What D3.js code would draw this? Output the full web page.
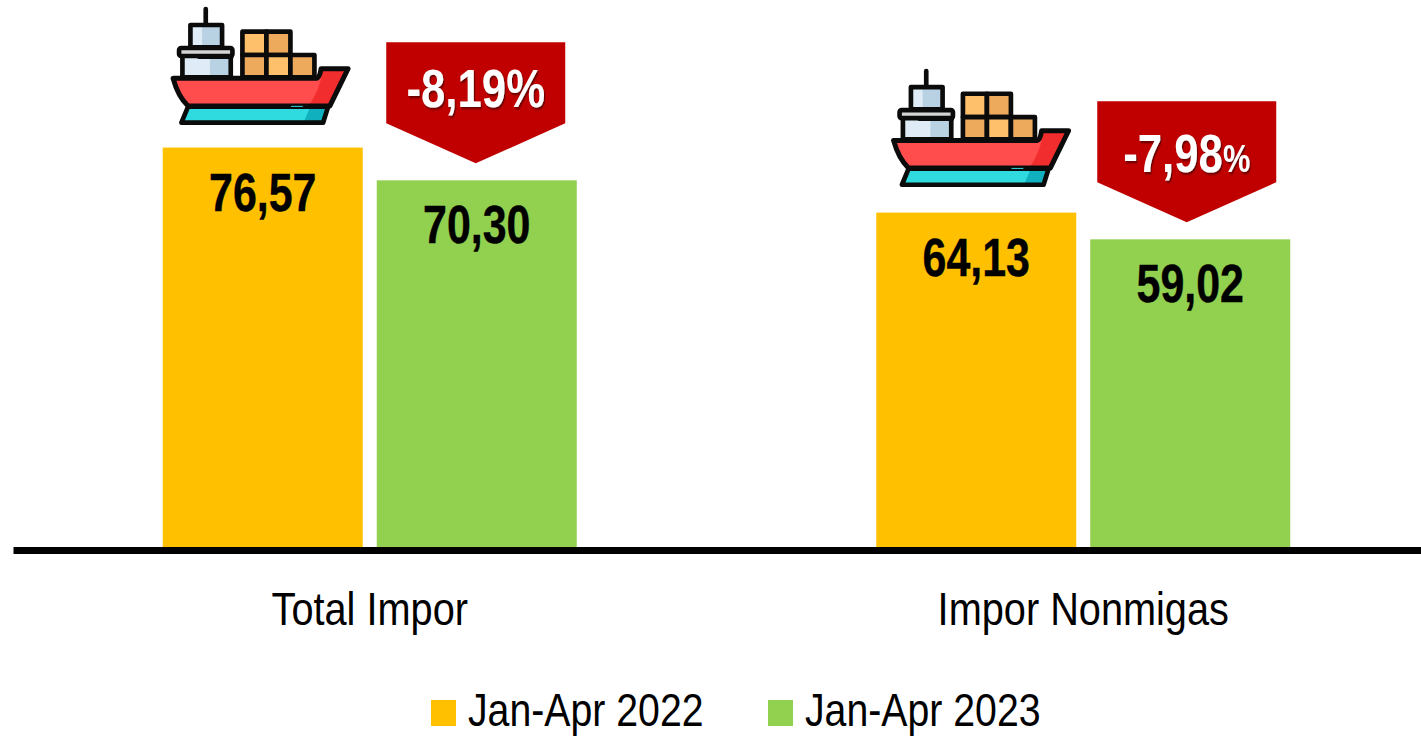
<!DOCTYPE html>
<html>
<head>
<meta charset="utf-8">
<script src="https://cdn.jsdelivr.net/npm/d3@7"></script>
<style>
html,body{margin:0;padding:0;background:#fff;overflow:hidden}
svg{display:block}
text{font-family:"Liberation Sans",Arial,sans-serif;fill:#000}
</style>
</head>
<body>
<svg id="chart" width="1421" height="736"></svg>
<script>
const categories = ["Total Impor", "Impor Nonmigas"];
const seriesNames = ["Jan-Apr 2022", "Jan-Apr 2023"];
const values2022 = [76.57, 64.13];
const values2023 = [70.30, 59.02];
const changeMain = ["-8,19%", "-7,98"];
const changeSmall = ["", "%"];
const colors = ["#FFC000", "#92D050"];

const fmt = v => v.toFixed(2).replace(".", ",");
const svg = d3.select("#chart");

const x = d3.scaleBand().domain(categories).range([13, 1440]);
const x1 = d3.scalePoint().domain(seriesNames).range([-107, 107]);
const barW = 200;
const y = d3.scaleLinear().domain([0, 100]).range([548, 25]);

// ship symbol, drawn in its own local coordinate box
const defs = svg.append("defs");
const ship = defs.append("g").attr("id", "ship").attr("stroke-linejoin", "round").attr("stroke-linecap", "round");
const K = "#0b0b0b";
const sw = 14;
const rect = (p, a, b, c, d, f) => p.append("rect").attr("x", a).attr("y", b).attr("width", c - a).attr("height", d - b).attr("fill", f);
ship.append("path").attr("d", "M138,27V75").attr("stroke", K).attr("stroke-width", sw).attr("fill", "none");
rect(ship, 92, 75, 187, 142, "#B8D2E4");
rect(ship, 92, 75, 127, 142, "#DFECF7");
ship.append("rect").attr("x", 92).attr("y", 75).attr("width", 95).attr("height", 67).attr("fill", "none").attr("stroke", K).attr("stroke-width", sw);
rect(ship, 68, 165, 150, 232, "#DFECF7");
rect(ship, 150, 165, 213, 232, "#B8D2E4");
ship.append("rect").attr("x", 68).attr("y", 165).attr("width", 145).attr("height", 67).attr("fill", "none").attr("stroke", K).attr("stroke-width", sw);
ship.append("rect").attr("x", 58).attr("y", 144).attr("width", 160).attr("height", 24).attr("rx", 6).attr("fill", "#D5D5D5").attr("stroke", K).attr("stroke-width", sw);
ship.append("path").attr("d", "M118,170H215").attr("stroke", K).attr("stroke-width", sw);
[[248, 95, 320, 165, "#FFC06B"], [320, 95, 392, 165, "#EDA95C"],
 [248, 165, 320, 232, "#EDA95C"], [320, 165, 392, 232, "#FFC06B"], [392, 165, 464, 232, "#EDA95C"]]
  .forEach(c => rect(ship, c[0], c[1], c[2], c[3], c[4]).attr("stroke", K).attr("stroke-width", sw));
const hull = "M40,235H470Q480,233 484,206H565L510,318H85Q55,290 40,235Z";
ship.append("path").attr("d", hull).attr("fill", "#FF4D4D");
ship.append("path").attr("d", "M490,208H560L508,316H448Q480,270 490,208Z").attr("fill", "#F22D2D");
ship.append("path").attr("d", hull).attr("fill", "none").attr("stroke", K).attr("stroke-width", sw + 1);
const keel = "M85,320H505L490,368H65Z";
ship.append("path").attr("d", keel).attr("fill", "#30DBDF");
ship.append("path").attr("d", "M450,324H503L489,366H432Z").attr("fill", "#10B0BF");
ship.append("path").attr("d", keel).attr("fill", "none").attr("stroke", K).attr("stroke-width", sw);
ship.append("path").attr("d", "M395,319H428").attr("stroke", "#30DBDF").attr("stroke-width", 3);

// shadow for callout text
const flt = defs.append("filter").attr("id", "ts").attr("x", "-10%").attr("y", "-10%").attr("width", "120%").attr("height", "130%");
flt.append("feDropShadow").attr("dx", 1.5).attr("dy", 2).attr("stdDeviation", 0.8).attr("flood-color", "#400000").attr("flood-opacity", 0.7);

// bars
const bars = categories.flatMap((c, i) => [
  { c, s: seriesNames[0], v: values2022[i] },
  { c, s: seriesNames[1], v: values2023[i] }
]);
const cx = d => x(d.c) + x.bandwidth() / 2 + x1(d.s);
svg.append("g").selectAll("rect").data(bars).join("rect")
  .attr("x", d => cx(d) - barW / 2)
  .attr("y", d => y(d.v))
  .attr("width", barW)
  .attr("height", d => y(0) - y(d.v))
  .attr("fill", d => colors[seriesNames.indexOf(d.s)]);

// value labels
svg.append("g").selectAll("text").data(bars).join("text")
  .attr("transform", d => `translate(${cx(d)},${y(d.v) + 63}) scale(0.81,1)`)
  .attr("text-anchor", "middle")
  .attr("font-weight", "bold")
  .attr("font-size", 53)
  .attr("stroke", "#000").attr("stroke-width", 0.4)
  .text(d => fmt(d.v));

// ships above the first bar of each group
const shipScale = 1 / 3;
const shipOffsetY = [-147.5, -150.5];
const shipOffsetX = [-3, 4];
svg.append("g").selectAll("use").data(categories).join("use")
  .attr("href", "#ship")
  .attr("transform", (c, i) => {
    const bx = x(c) + x.bandwidth() / 2 + x1(seriesNames[0]) - barW / 2;
    return `translate(${bx + shipOffsetX[i]},${y(values2022[i]) + shipOffsetY[i]}) scale(${shipScale})`;
  });

// callouts above the second bar of each group
const calloutShift = [-1, -3.5];
const calloutTextY = [-73, -67];
const callouts = svg.append("g").selectAll("g").data(categories).join("g")
  .attr("transform", (c, i) => `translate(${x(c) + x.bandwidth() / 2 + x1(seriesNames[1]) + calloutShift[i]},${y(values2023[i])})`);
callouts.append("path")
  .attr("d", "M-89.5,-138H89.5V-57L0,-17L-89.5,-57Z")
  .attr("fill", "#C00000");
const ct = callouts.append("text")
  .attr("transform", (c, i) => `translate(0,${calloutTextY[i]}) scale(0.81,1)`)
  .attr("text-anchor", "middle")
  .attr("font-weight", "bold")
  .attr("font-size", 54)
  .attr("filter", "url(#ts)")
  .style("fill", "#fff");
ct.append("tspan").text((c, i) => changeMain[i]);
ct.append("tspan").attr("font-size", 38).text((c, i) => changeSmall[i]);

// category axis
const axis = svg.append("g").attr("transform", "translate(0,550)")
  .call(d3.axisBottom(x).tickSize(0).tickPadding(0));
axis.select(".domain").attr("stroke", "#000").attr("stroke-width", 7);
axis.selectAll("text")
  .attr("y", 0).attr("dy", 0)
  .attr("transform", "translate(0,75) scale(0.845,1)")
  .attr("font-size", 47)
  .attr("font-family", '"Liberation Sans",Arial,sans-serif');

// legend
const legendSwatchX = [431, 768];
const legend = svg.append("g").selectAll("g").data(seriesNames).join("g");
legend.append("rect")
  .attr("x", (d, i) => legendSwatchX[i]).attr("y", 700)
  .attr("width", 25).attr("height", 26)
  .attr("fill", (d, i) => colors[i]);
legend.append("text")
  .attr("transform", (d, i) => `translate(${legendSwatchX[i] + 37},726) scale(0.835,1)`)
  .attr("font-size", 47)
  .text(d => d);
</script>
</body>
</html>
